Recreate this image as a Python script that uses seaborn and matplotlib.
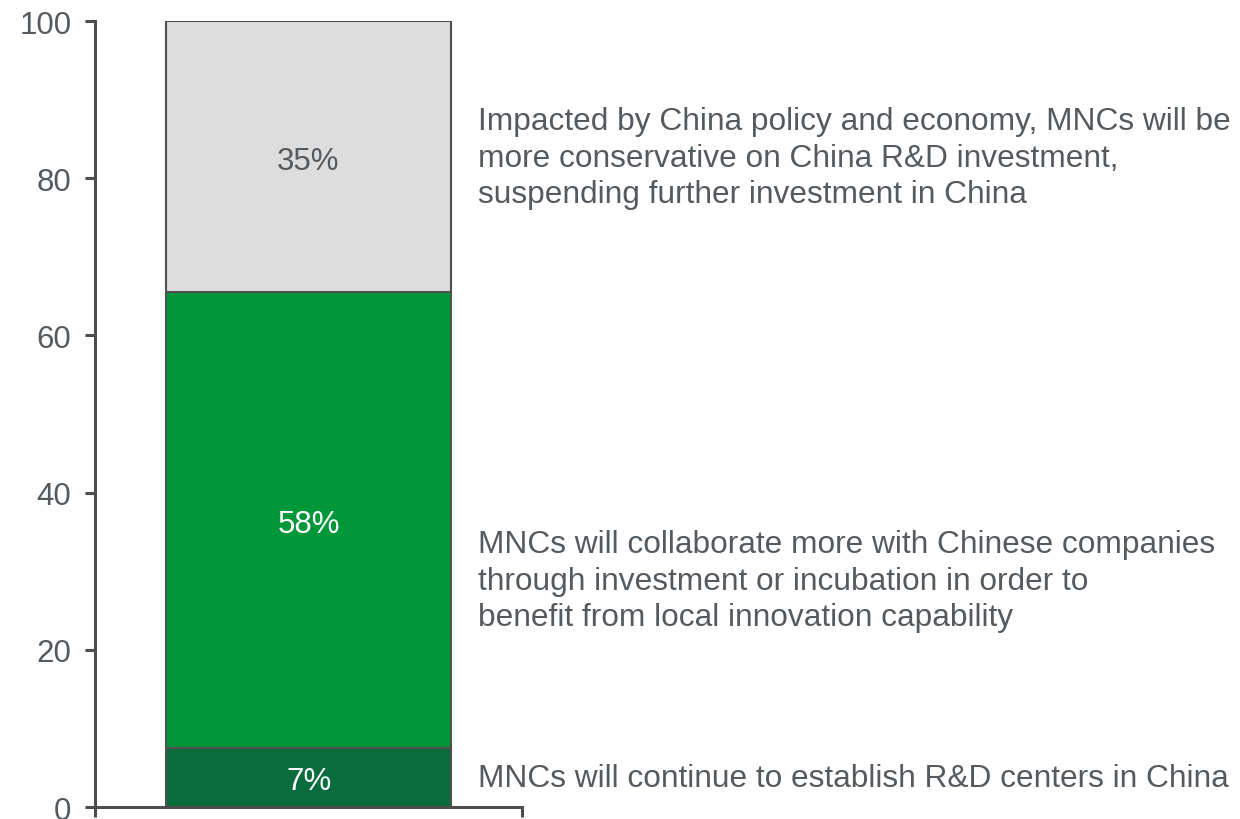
import matplotlib
matplotlib.use("Agg")
import matplotlib.pyplot as plt
import seaborn as sns
import pandas as pd

# segment values (bottom to top) and their printed labels
segments = ["establish", "collaborate", "conservative"]
values = [7.5, 58.0, 34.5]
pct_labels = ["7%", "58%", "35%"]
colors = ["#0a6b3c", "#00963a", "#dddddd"]
label_colors = ["white", "white", "#555a5f"]
descriptions = [
    "MNCs will continue to establish R&D centers in China",
    "MNCs will collaborate more with Chinese companies\nthrough investment or incubation in order to\nbenefit from local innovation capability",
    "Impacted by China policy and economy, MNCs will be\nmore conservative on China R&D investment,\nsuspending further investment in China",
]
desc_y = [3.7, 28.8, 82.6]

sns.set_style("ticks")
plt.rcParams["font.family"] = ["Liberation Sans", "DejaVu Sans"]

fig = plt.figure(figsize=(12.4, 8.2), dpi=100)
ax = fig.add_axes([0.0766, 0.0146, 0.3444, 0.9585])

axis_col = "#4d4d4d"
text_col = "#555a5f"

bottom = 0.0
for seg, val, col, lab, lcol in zip(segments, values, colors, pct_labels, label_colors):
    df = pd.DataFrame({"x": [""], "v": [val]})
    sns.barplot(data=df, x="x", y="v", color=col, bottom=bottom, width=1.0,
                edgecolor="#505050", linewidth=1.5, saturation=1, ax=ax)
    ax.text(0, bottom + val / 2 - 0.5, lab, ha="center", va="center",
            fontsize=22.5, color=lcol)
    bottom += val

for txt, y in zip(descriptions, desc_y):
    ax.text(0.897, y, txt, transform=ax.get_yaxis_transform(), ha="left",
            va="center", fontsize=22.8, color=text_col, linespacing=1.28,
            clip_on=False)

ax.set_xlim(-0.75, 0.75)
ax.set_ylim(0, 100)
ax.set_yticks([0, 20, 40, 60, 80, 100])
ax.set_xticks([-0.75, 0.75])
ax.set_xticklabels(["", ""])
ax.set_xlabel("")
ax.set_ylabel("")
sns.despine(ax=ax)
for s in ["left", "bottom"]:
    ax.spines[s].set_color(axis_col)
    ax.spines[s].set_linewidth(2.2)
ax.tick_params(axis="both", colors=axis_col, width=2.2, length=7,
               labelsize=22.5, labelcolor=text_col)
ax.tick_params(axis="y", pad=10)

fig.savefig("out.png", dpi=100)
